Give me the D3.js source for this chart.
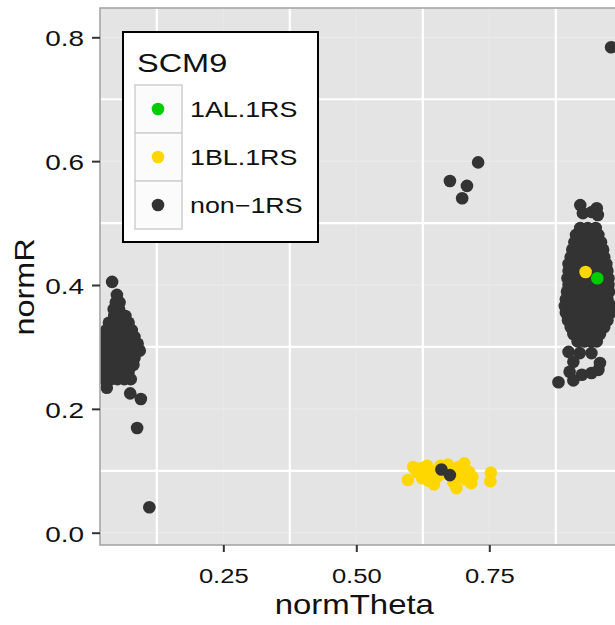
<!DOCTYPE html>
<html>
<head>
<meta charset="utf-8">
<script src="https://cdn.jsdelivr.net/npm/d3@7"></script>
<style>
  html, body { margin: 0; padding: 0; background: #ffffff; }
  svg { display: block; }
  text { font-family: "Liberation Sans", Arial, Helvetica, sans-serif; }
</style>
</head>
<body>
<svg id="chart" width="615" height="625"></svg>
<script>
// ---------------- data (normTheta, normR) ----------------
const groups = ["1AL.1RS", "1BL.1RS", "non-1RS"];
const groupColors = ["#00cd00", "#ffd700", "#333333"];

const thetaTicks = [0.25, 0.50, 0.75];
const thetaTickLabels = ["0.25", "0.50", "0.75"];
const rTicks = [0.0, 0.2, 0.4, 0.6, 0.8];
const rTickLabels = ["0.0", "0.2", "0.4", "0.6", "0.8"];
const thetaMinor = [0.125, 0.375, 0.625, 0.875];
const rMinor = [0.1, 0.3, 0.5, 0.7];

// non-1RS : left cluster
const nonLeft = [
  [0.041,0.405],[0.050,0.384],[0.048,0.372],[0.055,0.372],[0.044,0.361],[0.054,0.361],
  [0.045,0.350],[0.056,0.350],[0.066,0.350],
  [0.035,0.339],[0.048,0.339],[0.060,0.339],[0.072,0.339],
  [0.030,0.327],[0.042,0.327],[0.054,0.327],[0.066,0.327],[0.078,0.327],
  [0.025,0.316],[0.037,0.316],[0.049,0.316],[0.061,0.316],[0.073,0.316],[0.083,0.316],
  [0.022,0.305],[0.034,0.305],[0.046,0.305],[0.058,0.305],[0.070,0.305],[0.082,0.305],[0.089,0.305],
  [0.020,0.294],[0.032,0.294],[0.044,0.294],[0.056,0.294],[0.068,0.294],[0.080,0.294],[0.093,0.294],
  [0.022,0.282],[0.034,0.282],[0.046,0.282],[0.058,0.282],[0.070,0.282],[0.083,0.282],
  [0.020,0.271],[0.032,0.271],[0.045,0.271],[0.057,0.271],[0.069,0.271],[0.081,0.271],
  [0.022,0.260],[0.035,0.260],[0.047,0.260],[0.059,0.260],[0.072,0.260],
  [0.026,0.248],[0.039,0.248],[0.051,0.248],[0.064,0.248],[0.076,0.248],
  [0.031,0.234],[0.075,0.225],[0.095,0.216],[0.088,0.169],[0.111,0.041]
];

// non-1RS : right cluster
const nonRight = [
  [0.921,0.529],[0.926,0.516],[0.943,0.518],[0.952,0.524],[0.954,0.513],
  [0.921,0.492],[0.935,0.492],[0.950,0.492],
  [0.913,0.481],[0.927,0.481],[0.941,0.481],[0.955,0.481],
  [0.910,0.469],[0.922,0.469],[0.936,0.469],[0.950,0.469],[0.960,0.469],
  [0.906,0.457],[0.918,0.457],[0.931,0.457],[0.945,0.457],[0.958,0.457],[0.964,0.457],
  [0.903,0.445],[0.915,0.445],[0.928,0.445],[0.940,0.445],[0.952,0.445],[0.966,0.445],
  [0.899,0.434],[0.911,0.434],[0.925,0.434],[0.938,0.434],[0.949,0.434],[0.962,0.434],[0.970,0.434],
  [0.899,0.423],[0.912,0.423],[0.923,0.423],[0.937,0.423],[0.947,0.423],[0.960,0.423],[0.972,0.423],
  [0.897,0.411],[0.909,0.411],[0.921,0.411],[0.933,0.411],[0.945,0.411],[0.958,0.411],[0.974,0.411],
  [0.899,0.400],[0.911,0.400],[0.925,0.400],[0.938,0.400],[0.950,0.400],[0.963,0.400],[0.974,0.400],
  [0.896,0.389],[0.908,0.389],[0.920,0.389],[0.934,0.389],[0.946,0.389],[0.959,0.389],[0.975,0.389],
  [0.894,0.377],[0.906,0.377],[0.919,0.377],[0.931,0.377],[0.944,0.377],[0.957,0.377],[0.972,0.377],
  [0.892,0.366],[0.905,0.366],[0.917,0.366],[0.930,0.366],[0.943,0.366],[0.956,0.366],[0.968,0.366],[0.979,0.366],
  [0.894,0.355],[0.907,0.355],[0.920,0.355],[0.933,0.355],[0.947,0.355],[0.961,0.355],[0.978,0.355],
  [0.898,0.343],[0.911,0.343],[0.924,0.343],[0.938,0.343],[0.951,0.343],[0.965,0.343],[0.972,0.343],
  [0.903,0.332],[0.916,0.332],[0.929,0.332],[0.942,0.332],[0.956,0.332],[0.966,0.332],
  [0.908,0.321],[0.921,0.321],[0.934,0.321],[0.947,0.321],[0.958,0.321],
  [0.916,0.309],[0.929,0.309],[0.941,0.309],[0.952,0.309],
  [0.899,0.292],[0.920,0.290],[0.942,0.290],[0.908,0.276],[0.958,0.274],
  [0.901,0.260],[0.924,0.255],[0.942,0.258],[0.955,0.263],[0.880,0.243],[0.908,0.246]
];

// non-1RS : isolated points
const nonOther = [
  [0.729,0.598],[0.676,0.568],[0.708,0.560],[0.699,0.540],[0.979,0.784]
];

// non-1RS : inside the 1BL.1RS cloud (plotted above it)
const nonInYellow = [[0.660,0.102],[0.676,0.093]];

// 1BL.1RS
const bl1RS = [
  [0.597,0.085],[0.607,0.106],[0.614,0.098],[0.622,0.104],[0.628,0.094],[0.633,0.108],
  [0.640,0.100],[0.636,0.084],[0.646,0.078],[0.652,0.090],[0.658,0.108],[0.663,0.096],
  [0.672,0.110],[0.678,0.102],[0.682,0.082],[0.688,0.072],[0.692,0.106],[0.697,0.094],
  [0.703,0.112],[0.706,0.086],[0.712,0.098],[0.718,0.090],[0.716,0.080],[0.753,0.097],
  [0.752,0.083],[0.624,0.088],[0.690,0.088]
];
const bl1RSRight = [[0.931,0.421]];

// 1AL.1RS
const al1RS = [[0.953,0.411]];

// ---------------- drawing ----------------
const svg = d3.select("#chart");
const panel = {x0: 100, x1: 640, y0: 8, y1: 545};

const x = d3.scaleLinear().domain([0, 1]).range([90.3, 622.3]);
const y = d3.scaleLinear().domain([0, 0.8]).range([532.7, 37.3]);
const color = d3.scaleOrdinal().domain(groups).range(groupColors);

function stretchText(sel, sx) {
  sel.each(function() {
    const t = d3.select(this);
    const tx = +t.attr("x") || 0, ty = +t.attr("y") || 0;
    t.attr("transform", `translate(${tx},${ty}) scale(${sx},1) translate(${-tx},${-ty})`);
  });
}

svg.append("defs").append("clipPath").attr("id", "clip")
  .append("rect").attr("x", panel.x0).attr("y", panel.y0)
  .attr("width", panel.x1 - panel.x0).attr("height", panel.y1 - panel.y0);

svg.append("rect").attr("x", panel.x0).attr("y", panel.y0)
  .attr("width", panel.x1 - panel.x0).attr("height", panel.y1 - panel.y0)
  .attr("fill", "#e4e4e4");

const grid = svg.append("g").attr("clip-path", "url(#clip)");
grid.selectAll(".hmaj").data(rTicks).join("line")
  .attr("x1", panel.x0).attr("x2", panel.x1)
  .attr("y1", d => y(d)).attr("y2", d => y(d))
  .attr("stroke", "#ececec").attr("stroke-width", 1);
grid.selectAll(".vmaj").data(thetaTicks).join("line")
  .attr("y1", panel.y0).attr("y2", panel.y1)
  .attr("x1", d => x(d)).attr("x2", d => x(d))
  .attr("stroke", "#e9e9e9").attr("stroke-width", 1);
grid.selectAll(".hmin").data(rMinor).join("line")
  .attr("x1", panel.x0).attr("x2", panel.x1)
  .attr("y1", d => y(d)).attr("y2", d => y(d))
  .attr("stroke", "#ffffff").attr("stroke-width", 2.2);
grid.selectAll(".vmin").data(thetaMinor).join("line")
  .attr("y1", panel.y0).attr("y2", panel.y1)
  .attr("x1", d => x(d)).attr("x2", d => x(d))
  .attr("stroke", "#ffffff").attr("stroke-width", 2.2);

const pts = svg.append("g").attr("clip-path", "url(#clip)");
function drawPoints(data, group) {
  pts.append("g").selectAll("circle").data(data).join("circle")
    .attr("cx", d => x(d[0])).attr("cy", d => y(d[1])).attr("r", 6.3)
    .attr("fill", color(group));
}
drawPoints(bl1RS, "1BL.1RS");
drawPoints(nonLeft, "non-1RS");
drawPoints(nonRight, "non-1RS");
drawPoints(nonOther, "non-1RS");
drawPoints(nonInYellow, "non-1RS");
drawPoints(bl1RSRight, "1BL.1RS");
drawPoints(al1RS, "1AL.1RS");

// panel border
svg.append("rect").attr("x", panel.x0).attr("y", panel.y0)
  .attr("width", panel.x1 - panel.x0).attr("height", panel.y1 - panel.y0)
  .attr("fill", "none").attr("stroke", "#a6a6a6").attr("stroke-width", 1.6);

// axes
const xAxis = svg.append("g").attr("transform", `translate(0,${panel.y1})`)
  .call(d3.axisBottom(x).tickValues(thetaTicks)
    .tickFormat((d, i) => thetaTickLabels[i]).tickSize(7).tickPadding(5));
xAxis.select(".domain").remove();
xAxis.selectAll("line").attr("stroke", "#333").attr("stroke-width", 2);
xAxis.selectAll("text").attr("font-size", 21).attr("fill", "#111")
  .attr("font-family", "Liberation Sans, Arial, sans-serif")
  .attr("dy", null).attr("y", 38).attr("x", 0)
  .attr("transform", "scale(1.22,1)");

const yAxis = svg.append("g").attr("transform", `translate(${panel.x0},0)`)
  .call(d3.axisLeft(y).tickValues(rTicks)
    .tickFormat((d, i) => rTickLabels[i]).tickSize(8).tickPadding(5));
yAxis.select(".domain").remove();
yAxis.selectAll("line").attr("stroke", "#333").attr("stroke-width", 2);
yAxis.selectAll("text").attr("font-size", 22).attr("fill", "#111")
  .attr("font-family", "Liberation Sans, Arial, sans-serif")
  .attr("dy", null).attr("y", 8.5).attr("x", 0)
  .attr("transform", "translate(-16,0) scale(1.27,1)");

// axis titles
svg.append("text").attr("x", x(0.5) - 2).attr("y", 614)
  .attr("text-anchor", "middle").attr("font-size", 27).attr("fill", "#111")
  .text("normTheta").call(stretchText, 1.22);

svg.append("text")
  .attr("transform", "translate(34,287) rotate(-90) scale(1.2,1)")
  .attr("text-anchor", "middle").attr("font-size", 27).attr("fill", "#111")
  .text("normR");

// legend
const lg = svg.append("g");
lg.append("rect").attr("x", 123).attr("y", 32).attr("width", 195).attr("height", 210)
  .attr("fill", "#ffffff").attr("stroke", "#000").attr("stroke-width", 2);
lg.append("text").attr("x", 137).attr("y", 72).attr("font-size", 26).attr("fill", "#111")
  .text("SCM9").call(stretchText, 1.25);
const keyY = [85, 133, 181];
groups.forEach((g, i) => {
  lg.append("rect").attr("x", 135).attr("y", keyY[i]).attr("width", 47).attr("height", 48)
    .attr("fill", "#fbfbfb").attr("stroke", "#cfcfcf").attr("stroke-width", 1.5);
  lg.append("circle").attr("cx", 158).attr("cy", keyY[i] + 24).attr("r", 6.3)
    .attr("fill", color(g));
  lg.append("text").attr("x", 190).attr("y", keyY[i] + 32).attr("font-size", 22)
    .attr("fill", "#111").text(g === "non-1RS" ? "non\u22121RS" : g).call(stretchText, 1.22);
});
</script>
</body>
</html>
